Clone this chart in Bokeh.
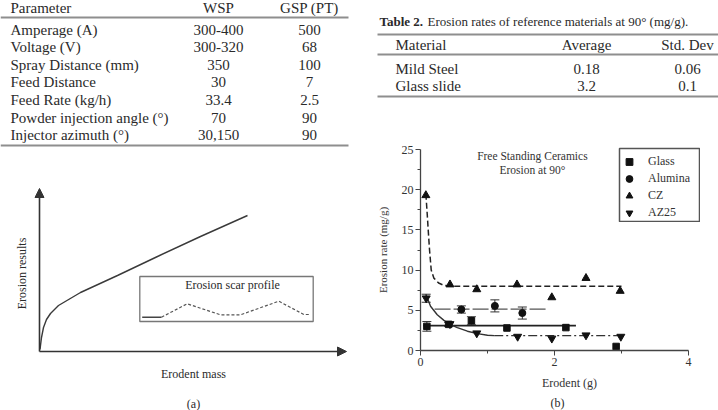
from bokeh.plotting import figure
from bokeh.models import (Range1d, ColumnDataSource, Whisker, TeeHead, Arrow,
                          NormalHead, Legend, LegendItem, FixedTicker, Label, Title)
from bokeh.core.properties import value
from bokeh.embed import file_html
from bokeh.resources import INLINE
import math

SERIF = "Liberation Serif"
INK = "#2a2a2a"
RULE = "#8e8e8e"

# ---------------- Table 1: spray parameters ----------------
param_names = ["Amperage (A)", "Voltage (V)", "Spray Distance (mm)", "Feed Distance",
               "Feed Rate (kg/h)", "Powder injection angle (\u00b0)", "Injector azimuth (\u00b0)"]
wsp_values = ["300-400", "300-320", "350", "30", "33.4", "70", "30,150"]
gsp_values = ["500", "68", "100", "7", "2.5", "90", "90"]
table1_header = ["Parameter", "WSP", "GSP (PT)"]

# ---------------- Table 2: reference materials ----------------
table2_caption_bold = "Table 2."
table2_caption = "Erosion rates of reference materials at 90\u00b0 (mg/g)."
table2_header = ["Material", "Average", "Std. Dev"]
ref_materials = ["Mild Steel", "Glass slide"]
ref_average = ["0.18", "3.2"]
ref_std = ["0.06", "0.1"]

# ---------------- (b) erosion of free standing ceramics ----------------
glass_x = [0.095, 0.42, 0.76, 1.29, 2.17, 2.92]
glass_y = [3.0, 3.25, 3.7, 2.8, 2.85, 0.5]
glass_err = [0.6, 0.25, 0.5, 0.0, 0.0, 0.0]

alumina_x = [0.61, 1.11, 1.52]
alumina_y = [5.1, 5.55, 4.66]
alumina_err = [0.45, 0.75, 0.75]

cz_x = [0.08, 0.44, 0.84, 1.44, 1.96, 2.47, 2.98]
cz_y = [19.3, 8.2, 7.6, 8.2, 6.6, 9.0, 7.4]

az25_x = [0.085, 0.44, 0.84, 1.45, 1.96, 2.47, 2.99]
az25_y = [6.5, 3.3, 2.15, 1.73, 1.5, 1.9, 1.73]
az25_err = [0.5, 0.0, 0.0, 0.0, 0.0, 0.0, 0.0]

# trend curves
cz_fit_x = [0.08, 0.10, 0.115, 0.135, 0.16, 0.2, 0.27, 0.35, 0.5, 3.0]
cz_fit_y = [19.5, 17.0, 15.0, 12.5, 10.0, 9.0, 8.4, 8.1, 8.0, 8.0]
glass_fit_x = [0.04, 2.32]
glass_fit_y = [3.1, 3.1]
alumina_fit_x = [0.21, 1.91]
alumina_fit_y = [5.15, 5.15]
az25_fit_x = [0.08, 0.15, 0.25, 0.35, 0.44, 0.55, 0.7, 0.85, 1.0, 1.1]
az25_fit_y = [7.0, 5.5, 4.45, 3.75, 3.25, 2.85, 2.4, 2.1, 1.9, 1.85]
az25_tail_x = [1.1, 3.0]
az25_tail_y = [1.85, 1.85]

x_ticks = [0, 2, 4]
x_minor = [1, 3]
y_ticks = [0, 5, 10, 15, 20, 25]
y_minor = [2.5, 7.5, 12.5, 17.5, 22.5]

# ---------------- (a) schematic shapes (drawing units, y downwards) ----------------
sketch_curve_x = [39.5, 41, 43, 46, 50, 58, 80, 117, 157, 200, 247]
sketch_curve_y = [349, 337, 327, 319, 313, 305, 292, 275, 256, 236, 215]
scar_flat_x = [141.7, 161]
scar_flat_y = [316.7, 316.7]
scar_x = [161, 186.7, 220, 240, 278.3, 303.3, 310]
scar_y = [316.7, 303.3, 314.3, 314.3, 300.7, 314, 314]


def place(p, left, top):
    p.styles = {"position": "absolute", "left": f"{left}px", "top": f"{top}px"}


def blank(w, h, left, top):
    p = figure(width=w, height=h, output_backend="svg", toolbar_location=None,
               x_range=Range1d(0, w), y_range=Range1d(h, 0), min_border=0)
    p.axis.visible = False
    p.grid.visible = False
    p.outline_line_color = None
    p.background_fill_color = "white"
    p.border_fill_color = "white"
    place(p, left, top)
    return p


def put_text(p, xs, ys, texts, align="left", size="15px", style="normal", angle=0.0):
    src = ColumnDataSource(dict(x=xs, y=ys, t=texts))
    p.text(x="x", y="y", text="t", source=src, text_font=value(SERIF),
           text_font_size=size, text_color=INK, text_align=align,
           text_baseline="middle", text_font_style=style, angle=angle)


# ---- left panel: Table 1 and schematic (a) ----
left = blank(360, 410, 0, 0)
row_y = [29 + 17.6 * i for i in range(len(param_names))]
put_text(left, [10], [7], [table1_header[0]])
put_text(left, [218, 309], [7, 7], table1_header[1:], align="center")
put_text(left, [10] * len(param_names), row_y, param_names)
put_text(left, [218] * len(wsp_values), row_y, wsp_values, align="center")
put_text(left, [309] * len(gsp_values), row_y, gsp_values, align="center")
left.segment(x0=[0, 0], y0=[17, 145], x1=[348, 348], y1=[17, 145],
             line_color=RULE, line_width=2)

head = dict(size=9, fill_color="#333333", line_color="#333333")
left.add_layout(Arrow(end=NormalHead(**head), x_start=39, y_start=351, x_end=39, y_end=188,
                      line_color="#333333", line_width=1.6))
left.add_layout(Arrow(end=NormalHead(**head), x_start=39, y_start=351, x_end=346, y_end=351,
                      line_color="#333333", line_width=1.6))
left.line(sketch_curve_x, sketch_curve_y, line_color="#3a3a3a", line_width=1.4)
left.quad(left=[139.3], right=[312.7], top=[276], bottom=[321], fill_color=None,
          line_color="#777777", line_width=1.3)
put_text(left, [232], [284], ["Erosion scar profile"], align="center", size="12px")
left.line(scar_flat_x, scar_flat_y, line_color="#444444", line_width=1.4)
left.line(scar_x, scar_y, line_color="#555555", line_width=1.2, line_dash="3 2")
put_text(left, [21], [273], ["Erosion results"], align="center", size="12px", angle=math.pi / 2)
put_text(left, [193], [373], ["Erodent mass"], align="center", size="12px")
put_text(left, [193], [403], ["(a)"], align="center", size="12px")

# ---- Table 2 ----
t2 = blank(358, 110, 360, 0)
put_text(t2, [19], [21], [table2_caption_bold], size="13px", style="bold")
put_text(t2, [67], [21], [table2_caption], size="13px")
put_text(t2, [35], [44], [table2_header[0]])
put_text(t2, [226, 327], [44, 44], table2_header[1:], align="center")
r2_y = [68, 85]
put_text(t2, [35, 35], r2_y, ref_materials)
put_text(t2, [226, 226], r2_y, ref_average, align="center")
put_text(t2, [327, 327], r2_y, ref_std, align="center")
t2.segment(x0=[17, 17, 17], y0=[34, 54, 96], x1=[358, 358, 358], y1=[34, 54, 96],
           line_color=RULE, line_width=2)

# ---- (b) erosion rate chart ----
# frame runs past x = 4 on the right so the legend fits inside it
pb = figure(width=358, height=300, output_backend="svg", toolbar_location=None,
            x_range=Range1d(0, 4 * 298 / 268), y_range=Range1d(0, 25),
            min_border_left=60, min_border_right=0, min_border_top=39,
            min_border_bottom=59)
place(pb, 360, 110)
pb.grid.visible = False
pb.outline_line_color = None
pb.background_fill_color = "white"
pb.border_fill_color = "white"

pb.xaxis.ticker = FixedTicker(ticks=x_ticks, minor_ticks=x_minor)
pb.xaxis.bounds = (0, 4)
pb.yaxis.ticker = FixedTicker(ticks=y_ticks, minor_ticks=y_minor)
for ax in (pb.xaxis[0], pb.yaxis[0]):
    ax.axis_line_color = "#444444"
    ax.axis_line_width = 1.3
    ax.major_tick_line_color = "#444444"
    ax.minor_tick_line_color = "#444444"
    ax.major_tick_out = 5
    ax.major_tick_in = 0
    ax.minor_tick_out = 3
    ax.minor_tick_in = 0
    ax.major_label_text_font = SERIF
    ax.major_label_text_font_size = "12px"
    ax.major_label_text_color = "#333333"
    ax.major_label_standoff = 2
    ax.axis_label_text_font = SERIF
    ax.axis_label_text_font_style = "normal"
    ax.axis_label_text_color = "#333333"
pb.xaxis.axis_label = "Erodent (g)"
pb.xaxis.axis_label_text_font_size = "12px"
pb.xaxis.axis_label_standoff = 7
pb.yaxis.axis_label = "Erosion rate (mg/g)"
pb.yaxis.axis_label_text_font_size = "11px"
pb.yaxis.axis_label_standoff = 10
pb.add_layout(Title(text="(b)", align="left", offset=130, text_font=SERIF,
                    text_font_size="12px", text_font_style="normal", text_color=INK,
                    standoff=2), "below")

# trend curves
pb.line(cz_fit_x, cz_fit_y, line_color="#222222", line_width=1.5, line_dash="6 3")
pb.line(glass_fit_x, glass_fit_y, line_color="#222222", line_width=1.6)
pb.line(alumina_fit_x, alumina_fit_y, line_color="#555555", line_width=1.1, line_dash="16 3")
pb.line(az25_fit_x, az25_fit_y, line_color="#333333", line_width=1.4)
pb.line(az25_tail_x, az25_tail_y, line_color="#333333", line_width=1.3, line_dash="9 3 2 3")


def whiskers(xs, ys, errs):
    keep = [i for i, e in enumerate(errs) if e > 0]
    src = ColumnDataSource(dict(x=[xs[i] for i in keep],
                                lo=[ys[i] - errs[i] for i in keep],
                                hi=[ys[i] + errs[i] for i in keep]))
    pb.add_layout(Whisker(base="x", upper="hi", lower="lo", source=src,
                          line_color="#333333", line_width=1,
                          upper_head=TeeHead(size=9, line_color="#333333", line_width=1),
                          lower_head=TeeHead(size=9, line_color="#333333", line_width=1)))


whiskers(glass_x, glass_y, glass_err)
whiskers(alumina_x, alumina_y, alumina_err)
whiskers(az25_x, az25_y, az25_err)

r_glass = pb.scatter(glass_x, glass_y, marker="square", size=6.5, color="#111111")
r_alum = pb.scatter(alumina_x, alumina_y, marker="circle", size=7, color="#111111")
r_cz = pb.scatter(cz_x, cz_y, marker="triangle", size=8, color="#111111")
r_az = pb.scatter(az25_x, az25_y, marker="inverted_triangle", size=8, color="#111111")

for yy, txt in ((24.2, "Free Standing Ceramics"), (22.4, "Erosion at 90\u00b0")):
    pb.add_layout(Label(x=1.67, y=yy, text=txt, text_align="center",
                        text_baseline="middle", text_font=SERIF, text_font_size="11.5px",
                        text_color="#333333"))

legend = Legend(items=[LegendItem(label="Glass", renderers=[r_glass]),
                       LegendItem(label="Alumina", renderers=[r_alum]),
                       LegendItem(label="CZ", renderers=[r_cz]),
                       LegendItem(label="AZ25", renderers=[r_az])],
                location=(200, 129), padding=2, margin=0, spacing=0,
                label_height=17, glyph_height=17, glyph_width=18, label_standoff=10,
                label_width=47,
                label_text_font=SERIF, label_text_font_size="12px", label_text_color="#333333",
                border_line_color=None,
                background_fill_color="white", background_fill_alpha=1.0)
pb.add_layout(legend)

# transparent overlay whose frame outline draws the box around the legend
legend_box = figure(width=82, height=75, output_backend="svg", toolbar_location=None,
                    min_border=1, x_range=Range1d(0, 1), y_range=Range1d(0, 1))
legend_box.axis.visible = False
legend_box.grid.visible = False
legend_box.outline_line_color = "#555555"
legend_box.outline_line_width = 1.5
legend_box.background_fill_alpha = 0
legend_box.border_fill_alpha = 0
place(legend_box, 618, 147)

open("out.html", "w").write(file_html([left, t2, pb, legend_box], INLINE))
